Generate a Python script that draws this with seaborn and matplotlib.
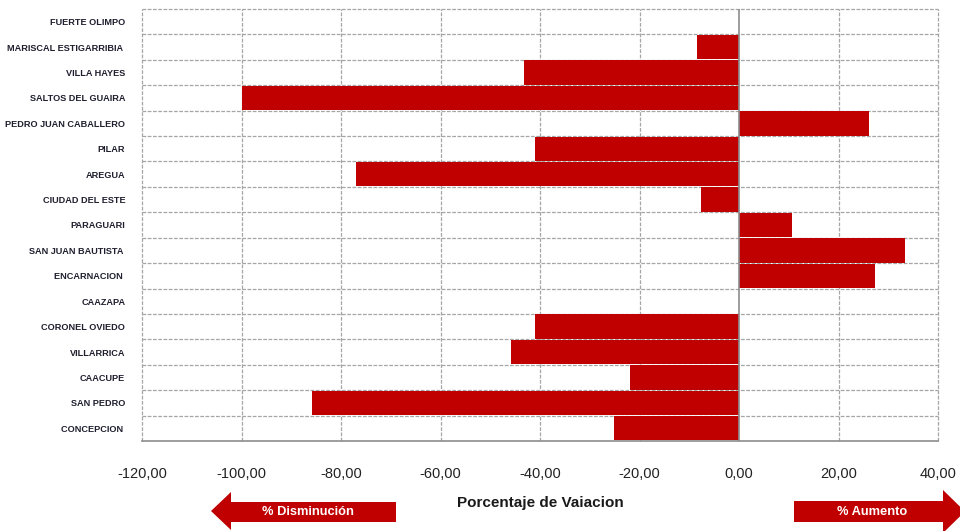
import matplotlib
matplotlib.use("Agg")
import matplotlib.pyplot as plt
from matplotlib.patches import Polygon
import seaborn as sns
import pandas as pd

# Percentage change by city (negative = decrease, positive = increase)
ciudades = [
    "FUERTE OLIMPO", "MARISCAL ESTIGARRIBIA ", "VILLA HAYES", "SALTOS DEL GUAIRA",
    "PEDRO JUAN CABALLERO", "PILAR", "AREGUA", "CIUDAD DEL ESTE", "PARAGUARI",
    "SAN JUAN BAUTISTA ", "ENCARNACION ", "CAAZAPA", "CORONEL OVIEDO", "VILLARRICA",
    "CAACUPE", "SAN PEDRO", "CONCEPCION ",
]
variacion = [
    0.0, -8.4, -43.2, -100.0,
    26.0, -41.1, -77.0, -7.6, 10.7,
    33.3, 27.2, 0.0, -41.1, -45.8,
    -22.0, -85.8, -25.2,
]
x_ticks = [-120, -100, -80, -60, -40, -20, 0, 20, 40]
x_tick_labels = ["-120,00", "-100,00", "-80,00", "-60,00", "-40,00", "-20,00", "0,00", "20,00", "40,00"]

df = pd.DataFrame({"ciudad": ciudades, "variacion": variacion})

sns.set_style("white")
plt.rcParams["font.family"] = ["Liberation Sans", "DejaVu Sans"]

W, H = 960, 531
fig = plt.figure(figsize=(W / 100, H / 100), dpi=100)
ax = fig.add_axes([142 / W, 1 - 441 / H, (938.3 - 142) / W, (441 - 9) / H])

RED = "#C00000"
GRID = "#A6A6A6"
DASH = (0, (3, 1.2))

sns.barplot(data=df, y="ciudad", x="variacion", orient="h", color=RED,
            width=0.96, saturation=1, edgecolor="none", ax=ax, zorder=3)

ax.set_xlim(-120, 40)
ax.set_ylim(len(ciudades) - 0.5, -0.5)

# vertical gridlines (dashed) with a solid line at zero
ax.set_xticks(x_ticks)
ax.set_xticklabels(x_tick_labels, fontsize=10.5, color="#222222")
for xv in x_ticks:
    if xv == 0:
        ax.axvline(0, color="#8C8C8C", lw=1.2, zorder=4)
    elif xv in (-120, 40):
        ax.axvline(xv, color=GRID, lw=0.9, linestyle=DASH, zorder=1, clip_on=False)
    else:
        ax.axvline(xv, color=GRID, lw=0.9, linestyle=DASH, zorder=1)

# horizontal gridlines at category boundaries
bounds = [i - 0.5 for i in range(len(ciudades) + 1)]
for yb in bounds[:-1]:
    ax.axhline(yb, color=GRID, lw=0.9, linestyle=DASH, zorder=2, clip_on=False)

for side in ("top", "right", "left"):
    ax.spines[side].set_visible(False)
ax.spines["bottom"].set_color("#8C8C8C")
ax.spines["bottom"].set_linewidth(1.2)

ax.tick_params(axis="x", direction="out", length=5, width=1, color="#8C8C8C", pad=14)
ax.tick_params(axis="y", length=0, pad=12)
for lbl in ax.get_yticklabels():
    lbl.set_fontsize(6.6)
    lbl.set_fontweight("bold")
    lbl.set_color("#1F1F2F")

ax.set_ylabel("")
ax.set_xlabel("")

# axis title below the ticks
fig.text(540 / W, 1 - 503 / H, "Porcentaje de Vaiacion", ha="center", va="center",
         fontsize=11, fontweight="bold", color="#1A1A1A")


def fig_poly(points, **kw):
    pts = [(x / W, 1 - y / H) for x, y in points]
    fig.patches.append(Polygon(pts, closed=True, transform=fig.transFigure, **kw))


# left arrow: decrease
fig_poly([(211, 511), (231, 492), (231, 502), (396, 502), (396, 522), (231, 522), (231, 530)],
         facecolor=RED, edgecolor="none")
fig.text(308 / W, 1 - 512 / H, "% Disminución", ha="center", va="center",
         fontsize=9.3, fontweight="bold", color="white")

# right arrow: increase
fig_poly([(794, 501), (943, 501), (943, 490), (965, 511.5), (943, 533), (943, 522), (794, 522)],
         facecolor=RED, edgecolor="none")
fig.text(872 / W, 1 - 512 / H, "% Aumento", ha="center", va="center",
         fontsize=9.3, fontweight="bold", color="white")

fig.savefig("out.png", dpi=100, facecolor="white")
